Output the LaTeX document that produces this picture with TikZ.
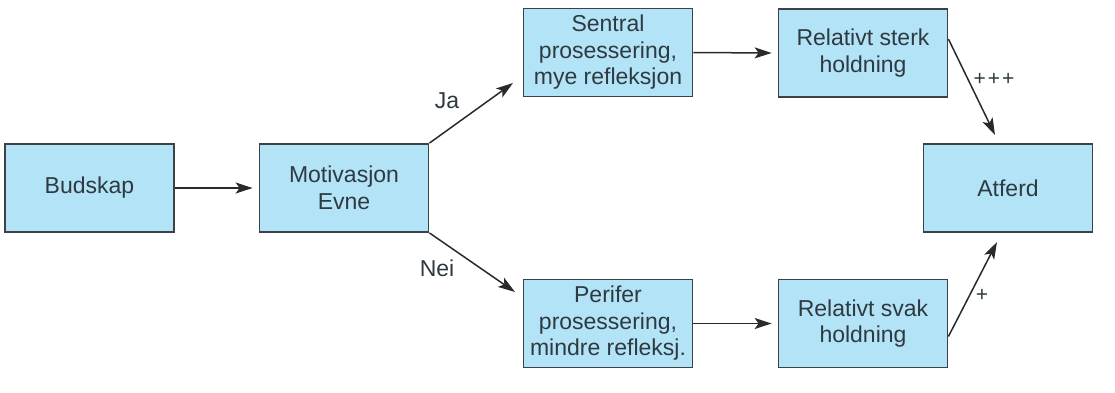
\documentclass[tikz,border=0pt]{standalone}
\usepackage{fontspec}
\setmainfont{Liberation Sans}
\usetikzlibrary{arrows.meta}
\definecolor{boxfill}{HTML}{B3E3F7}
\definecolor{boxline}{HTML}{3C4246}
\definecolor{txt}{HTML}{2E3A40}
\definecolor{arr}{HTML}{2A2A2A}
\begin{document}
\begin{tikzpicture}[x=1pt,y=-1pt,
  box/.style={draw=boxline,line width=1.8pt,fill=boxfill,minimum width=169pt,minimum height=88pt,
    inner sep=0pt,align=center,text=txt,font=\fontsize{23pt}{26.5pt}\selectfont},
  conn/.style={draw=arr,line width=1.5pt,-{Stealth[length=17pt,width=11pt,inset=4pt]}},
  lbl/.style={text=txt,font=\fontsize{23pt}{26pt}\selectfont,inner sep=0pt}]
\useasboundingbox (0,0) rectangle (1115,392);
\node[box] (bud) at (89.5,188) {Budskap};
\node[box] (mot) at (344,188) {Motivasjon\\Evne};
\node[box] (sen) at (608,52.5) {Sentral\\prosessering,\\mye refleksjon};
\node[box] (per) at (608,323.5) {Perifer\\prosessering,\\mindre refleksj.};
\node[box] (ste) at (863,53) {Relativt sterk\\holdning};
\node[box] (sva) at (863,323.5) {Relativt svak\\holdning};
\node[box] (atf) at (1008,188) {Atferd};
\coordinate (jaend) at (513,83);
\coordinate (neiend) at (515,292);
\coordinate (pend) at (995,135);
\coordinate (mend) at (997,242);
\draw[conn] (bud.east) -- ([xshift=-6pt]mot.west);
\draw[conn] (mot.north east) -- (jaend);
\draw[conn] (mot.south east) -- (neiend);
\draw[conn] (sen.east) -- ([xshift=-6pt]ste.west);
\draw[conn] (per.east) -- ([xshift=-6pt]sva.west);
\draw[conn] ([yshift=14pt]ste.east) -- (pend);
\draw[conn] ([yshift=-13pt]sva.east) -- (mend);
\node[lbl] (ja) at (447,101) {Ja};
\node[lbl] (nei) at (437,268) {Nei};
\node[lbl,font=\fontsize{21pt}{24pt}\selectfont] (ppp) at (994,79) {+\kern2pt+\kern2pt+};
\node[lbl,font=\fontsize{21pt}{24pt}\selectfont] (p) at (982,295) {+};
\end{tikzpicture}
\end{document}
